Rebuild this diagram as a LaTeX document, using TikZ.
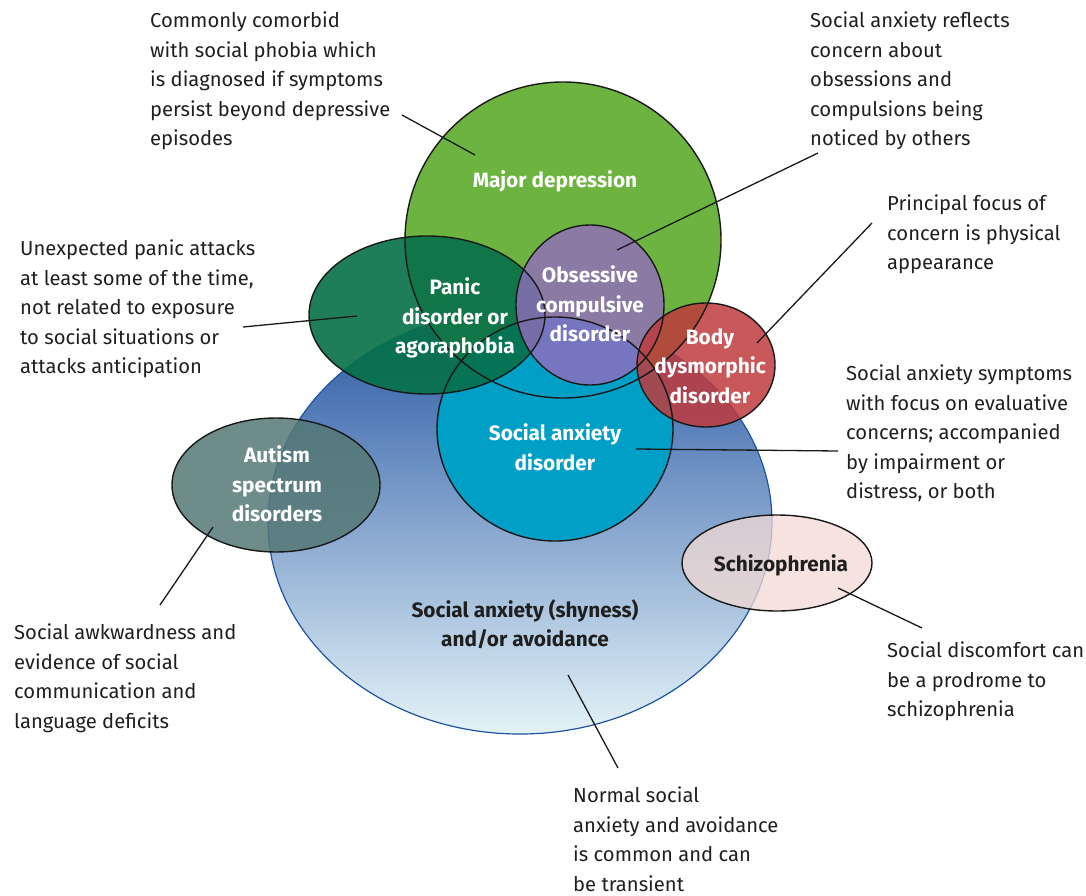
\documentclass[tikz,border=0pt]{standalone}
\usepackage{fontspec}
\setmainfont{Fira Sans}
\usetikzlibrary{positioning,shapes.geometric}
\definecolor{shyTop}{RGB}{38,86,163}
\definecolor{shyMid}{RGB}{122,154,206}
\definecolor{shyBot}{RGB}{228,243,248}
\definecolor{shyLine}{RGB}{30,84,165}
\definecolor{asdfill}{RGB}{85,120,118}
\definecolor{sczfill}{RGB}{243,218,212}
\definecolor{mdfill}{RGB}{108,179,63}
\definecolor{sadfill}{RGB}{0,160,198}
\definecolor{pdfill}{RGB}{6,112,72}
\definecolor{ocdfill}{RGB}{147,108,190}
\definecolor{bddfill}{RGB}{190,59,61}
\tikzset{%
	note/.style    = {anchor=north west, align=left, inner sep=0pt, text=black!88, font=\fontsize{20.2}{29.5}\selectfont},
	inlabel/.style = {align=center, inner sep=0pt, text=white, font=\bfseries\fontsize{20.8}{29.5}\selectfont},
	leader/.style  = {draw=black!90, line width=1.3pt},
	outline/.style = {draw=black!90, line width=1.4pt},
}
% centre x / centre y / x radius / y radius / fill / opacity
\def\blobs{276/485/104/67/asdfill/0.85, 777/563/95/48/sczfill/0.75,
	563/240/158/158/mdfill/1, 555/429/118/112/sadfill/1,
	427/315/118/79/pdfill/0.9, 590/305/74/80/ocdfill/0.8,
	706/365/69/62/bddfill/0.85}

\begin{document}
\begin{tikzpicture}[x=1pt,y=-1pt]
	\useasboundingbox (0,0) rectangle (1086,896);
	
	% normal social anxiety
	\fill[top color=shyTop, middle color=shyMid, bottom color=shyBot] (520,522) ellipse [x radius=252, y radius=212];
	\draw[shyLine, line width=1.2pt] (520,522) ellipse [x radius=252, y radius=212];
	
	% disorders, fills first and outlines on top
	\foreach \cx/\cy/\rx/\ry/\col/\op in \blobs
		\fill[\col, fill opacity=\op] (\cx,\cy) ellipse [x radius=\rx, y radius=\ry];
	\foreach \cx/\cy/\rx/\ry/\col/\op in \blobs
		\draw[outline] (\cx,\cy) ellipse [x radius=\rx, y radius=\ry];
	
	\node [inlabel] (mdLbl) at (555,181) {Major depression};
	\node [inlabel] (pdLbl) at (455,318) {Panic\\disorder or\\agoraphobia};
	\node [inlabel] (ocdLbl) at (590,304) {Obsessive\\compulsive\\disorder};
	\node [inlabel] (bddLbl) at (710,366) {Body\\dysmorphic\\disorder};
	\node [inlabel] (sadLbl) at (555,447) {Social anxiety\\disorder};
	\node [inlabel] (asdLbl) at (277,484) {Autism\\spectrum\\disorders};
	\node [inlabel,text=black!88] (sczLbl) at (781,565) {Schizophrenia};
	\node [inlabel,text=black!88] (shyLbl) at (525,624) {Social anxiety (shyness)\\and/or avoidance};
	
	% notes
	\node [note] (mdNote) at (150,12) {Commonly comorbid\\with social phobia which\\is diagnosed if symptoms\\persist beyond depressive\\episodes};
	\node [note] (ocdNote) at (810,12) {Social anxiety reflects\\concern about\\obsessions and\\compulsions being\\noticed by others};
	\node [note] (bddNote) at (887,195) {Principal focus of\\concern is physical\\appearance};
	\node [note] (pdNote) at (20,240) {Unexpected panic attacks\\at least some of the time,\\not related to exposure\\to social situations or\\attacks anticipation};
	\node [note] (sadNote) at (846,365) {Social anxiety symptoms\\with focus on evaluative\\concerns; accompanied\\by impairment or\\distress, or both};
	\node [note] (asdNote) at (14,624) {Social awkwardness and\\evidence of social\\communication and\\language deficits};
	\node [note] (sczNote) at (887,642) {Social discomfort can\\be a prodrome to\\schizophrenia};
	\node [note] (shyNote) at (573,787) {Normal social\\anxiety and avoidance\\is common and can\\be transient};
	
	% leader ends
	\coordinate (mdA) at (402,115);  \coordinate (mdB) at (475,155);
	\coordinate (ocdA) at (818,153); \coordinate (ocdB) at (617,250);
	\coordinate (bddA) at (872,223); \coordinate (bddB) at (757,343);
	\coordinate (pdA) at (243,327);  \coordinate (pdB) at (357,316);
	\coordinate (sadA) at (838,451); \coordinate (sadB) at (636,449);
	\coordinate (asdA) at (160,605); \coordinate (asdB) at (213,527);
	\coordinate (sczA) at (922,628); \coordinate (sczB) at (838,588);
	\coordinate (shyA) at (618,768); \coordinate (shyB) at (568,675);
	
	\foreach \n in {md,ocd,bdd,pd,sad,asd,scz,shy}
		\draw[leader] (\n A) -- (\n B);
	
\end{tikzpicture}
\end{document}
